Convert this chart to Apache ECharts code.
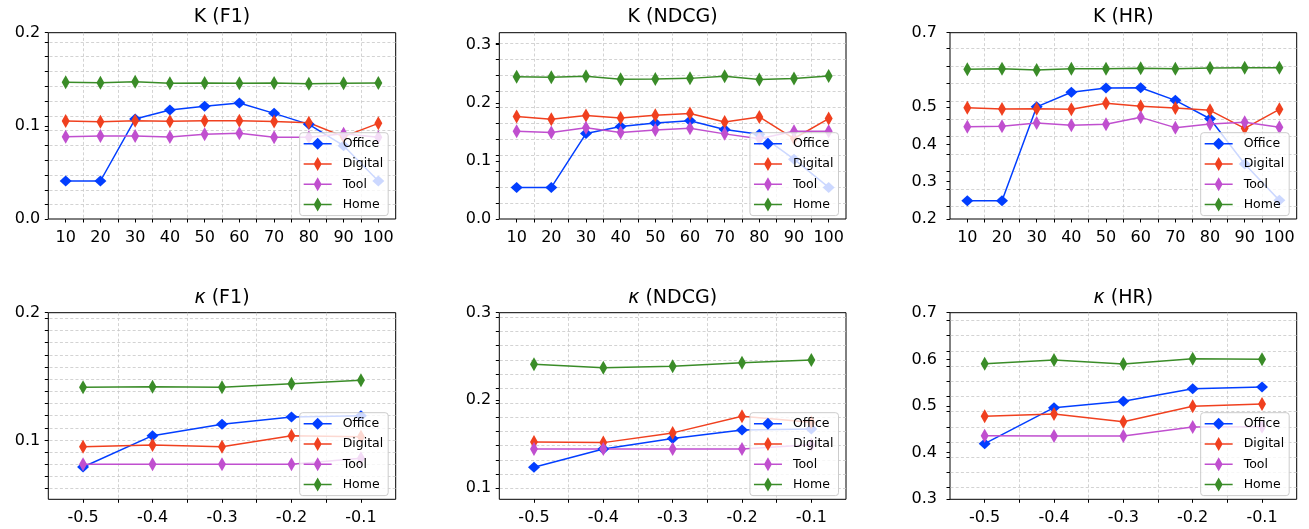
<!DOCTYPE html>
<html>
<head>
<meta charset="utf-8">
<script src="https://cdn.jsdelivr.net/npm/echarts@6/dist/echarts.min.js"></script>
<style>
html,body{margin:0;padding:0;background:#fff;}
#chart{width:1309px;height:529px;}
</style>
</head>
<body>
<div id="chart"></div>
<script>
// ---------- categories / ticks ----------
const seriesNames = ['Office', 'Digital', 'Tool', 'Home'];
const kValues = [10, 20, 30, 40, 50, 60, 70, 80, 90, 100];
const kappaValues = [-0.5, -0.4, -0.3, -0.2, -0.1];
const kMinorX = [15, 25, 35, 45, 55, 65, 75, 85, 95];
const kappaMinorX = [-0.45, -0.35, -0.25, -0.15];

const kF1YTicks = [0.0, 0.1, 0.2];
const kNdcgYTicks = [0.0, 0.1, 0.2, 0.3];
const kHrYTicks = [0.2, 0.3, 0.4, 0.5, 0.7];
const kapF1YTicks = [0.1, 0.2];
const kapNdcgYTicks = [0.1, 0.2, 0.3];
const kapHrYTicks = [0.3, 0.4, 0.5, 0.6, 0.7];

// minor (grid) tick positions
const kF1YGrid = [0.0153, 0.0312, 0.0471, 0.0630, 0.0789, 0.0948, 0.1107, 0.1266, 0.1425, 0.1584, 0.1743, 0.1902];
const kNdcgYGrid = [0.0269, 0.0544, 0.0819, 0.1094, 0.1369, 0.1644, 0.1919, 0.2194, 0.2469, 0.2744, 0.3019];
const kHrYGrid = [0.233, 0.2802, 0.3274, 0.3746, 0.4218, 0.469, 0.5162, 0.5634, 0.6106, 0.6578];
const kapF1YGrid = [0.0623, 0.0718, 0.0813, 0.0909, 0.1004, 0.1099, 0.1194, 0.1289, 0.1385, 0.148, 0.1575, 0.167, 0.1765, 0.1861, 0.1956];
const kapNdcgYGrid = [0.0992, 0.1155, 0.1319, 0.1482, 0.1645, 0.1809, 0.1972, 0.2135, 0.2298, 0.2462, 0.2625, 0.2788, 0.2952];
const kapHrYGrid = [0.325, 0.3576, 0.3902, 0.4228, 0.4554, 0.488, 0.5206, 0.5532, 0.5858, 0.6184, 0.651, 0.6836];

// ---------- values ----------
const kF1Office  = [0.0408, 0.0408, 0.1073, 0.1170, 0.1210, 0.1245, 0.1134, 0.1016, 0.0787, 0.0408];
const kF1Digital = [0.1052, 0.1045, 0.1055, 0.1050, 0.1055, 0.1055, 0.1048, 0.1034, 0.0884, 0.1027];
const kF1Tool    = [0.0884, 0.0890, 0.0890, 0.0880, 0.0909, 0.0920, 0.0877, 0.0877, 0.0915, 0.0877];
const kF1Home    = [0.1467, 0.1463, 0.1474, 0.1456, 0.1460, 0.1456, 0.1460, 0.1453, 0.1456, 0.1460];

const kNdcgOffice  = [0.0544, 0.0544, 0.1470, 0.1590, 0.1654, 0.1690, 0.1540, 0.1460, 0.1030, 0.0544];
const kNdcgDigital = [0.1763, 0.1717, 0.1780, 0.1740, 0.1786, 0.1815, 0.1670, 0.1757, 0.1385, 0.1729];
const kNdcgTool    = [0.1510, 0.1490, 0.1570, 0.1490, 0.1530, 0.1560, 0.1465, 0.1380, 0.1510, 0.1510];
const kNdcgHome    = [0.2450, 0.2438, 0.2456, 0.2404, 0.2410, 0.2420, 0.2456, 0.2400, 0.2416, 0.2460];

const kHrOffice  = [0.2490, 0.2490, 0.5010, 0.5400, 0.5515, 0.5524, 0.5184, 0.4690, 0.3476, 0.2500];
const kHrDigital = [0.4987, 0.4952, 0.4960, 0.4943, 0.5104, 0.5023, 0.4979, 0.4916, 0.4433, 0.4943];
const kHrTool    = [0.4478, 0.4487, 0.4576, 0.4513, 0.4540, 0.4728, 0.4452, 0.4550, 0.4594, 0.4461];
const kHrHome    = [0.6016, 0.6034, 0.5998, 0.6034, 0.6034, 0.6043, 0.6034, 0.6052, 0.6060, 0.6060];

const kapF1Office  = [0.0793, 0.1038, 0.1127, 0.1184, 0.1194];
const kapF1Digital = [0.0952, 0.0965, 0.0952, 0.1038, 0.1030];
const kapF1Tool    = [0.0814, 0.0814, 0.0814, 0.0814, 0.0861];
const kapF1Home    = [0.1416, 0.1421, 0.1416, 0.1445, 0.1471];

const kapNdcgOffice  = [0.1235, 0.1445, 0.1563, 0.1662, 0.1673];
const kapNdcgDigital = [0.1525, 0.1517, 0.1628, 0.1817, 0.1749];
const kapNdcgTool    = [0.1445, 0.1445, 0.1445, 0.1445, 0.1494];
const kapNdcgHome    = [0.2411, 0.2373, 0.2388, 0.2430, 0.2461];

const kapHrOffice  = [0.4193, 0.4964, 0.5100, 0.5371, 0.5407];
const kapHrDigital = [0.4779, 0.4829, 0.4664, 0.4993, 0.5043];
const kapHrTool    = [0.4364, 0.4357, 0.4357, 0.4550, 0.4557];
const kapHrHome    = [0.5907, 0.5986, 0.5900, 0.6014, 0.6000];

// ---------- layout & style ----------
const FONT = '"DejaVu Sans", "Liberation Sans", sans-serif';
const W = 1309;
const COLORS = ['#023eff', '#f0401f', '#c04fcf', '#3a8c28'];
const SYMBOL_SIZES = [[12, 11], [8, 14], [8, 14], [8, 14]];
const GRID_LINE = { color: '#c8c8c8', width: 0.8, type: [3, 2.2] };
const ICON_WIDE = 'path://M0,0M34,14M0,6.25L28,6.25L28,7.75L0,7.75ZM14,1L20,7L14,13L8,7Z';
const ICON_THIN = 'path://M0,0M34,14M0,6.25L28,6.25L28,7.75L0,7.75ZM14,0L18,7L14,14L10,7Z';

const COLS = [[48.3, 395.7], [499.3, 846.0], [950.0, 1296.7]];
const ROWS = [[32.7, 219.0], [312.7, 499.3]];
const TITLE_Y = [17, 298.3];
const Y_LABEL_MARGIN = [8, 8, 13];

const panels = [
  { metric: 'F1',   kappa: false, col: 0, row: 0, yMin: 0,     yMax: 0.2,    yTicks: kF1YTicks,     yGrid: kF1YGrid,     data: [kF1Office, kF1Digital, kF1Tool, kF1Home] },
  { metric: 'NDCG', kappa: false, col: 1, row: 0, yMin: 0,     yMax: 0.3206, yTicks: kNdcgYTicks,   yGrid: kNdcgYGrid,   data: [kNdcgOffice, kNdcgDigital, kNdcgTool, kNdcgHome] },
  { metric: 'HR',   kappa: false, col: 2, row: 0, yMin: 0.2,   yMax: 0.7,    yTicks: kHrYTicks,     yGrid: kHrYGrid,     data: [kHrOffice, kHrDigital, kHrTool, kHrHome] },
  { metric: 'F1',   kappa: true,  col: 0, row: 1, yMin: 0.054, yMax: 0.2,    yTicks: kapF1YTicks,   yGrid: kapF1YGrid,   data: [kapF1Office, kapF1Digital, kapF1Tool, kapF1Home] },
  { metric: 'NDCG', kappa: true,  col: 1, row: 1, yMin: 0.087, yMax: 0.3,    yTicks: kapNdcgYTicks, yGrid: kapNdcgYGrid, data: [kapNdcgOffice, kapNdcgDigital, kapNdcgTool, kapNdcgHome] },
  { metric: 'HR',   kappa: true,  col: 2, row: 1, yMin: 0.3,   yMax: 0.7,    yTicks: kapHrYTicks,   yGrid: kapHrYGrid,   data: [kapHrOffice, kapHrDigital, kapHrTool, kapHrHome] }
];

const option = {
  animation: false,
  backgroundColor: '#ffffff',
  textStyle: { fontFamily: FONT },
  grid: [], xAxis: [], yAxis: [], series: [], legend: [], graphic: []
};

panels.forEach((p, i) => {
  const [l, r] = COLS[p.col];
  const [t, b] = ROWS[p.row];
  const w = r - l, h = b - t;
  const xs = p.kappa ? kappaValues : kValues;
  const xMinor = p.kappa ? kappaMinorX : kMinorX;
  const xMin = p.kappa ? -0.55 : 5;
  const xMax = p.kappa ? -0.05 : 105;
  const xFmt = p.kappa ? (v => Number(v).toFixed(1)) : (v => String(Math.round(v)));

  option.grid.push({ left: l, top: t, width: w, height: h, show: true, borderColor: '#000', borderWidth: 1, backgroundColor: 'transparent' });

  const xMain = option.xAxis.length;
  option.xAxis.push({
    type: 'value', gridIndex: i, position: 'bottom', min: xMin, max: xMax,
    axisLine: { show: false, onZero: false }, splitLine: { show: false },
    axisTick: { show: true, customValues: xs.concat(xMinor), length: 3.5, lineStyle: { color: '#000', width: 1 } },
    axisLabel: { show: true, customValues: xs, formatter: xFmt, fontSize: 16, color: '#000', margin: 11, fontFamily: FONT }
  });
  option.xAxis.push({
    type: 'value', gridIndex: i, position: 'top', min: xMin, max: xMax,
    axisLine: { show: false, onZero: false }, splitLine: { show: false }, axisLabel: { show: false },
    axisTick: { show: true, inside: true, length: h, customValues: xMinor, lineStyle: GRID_LINE }
  });

  const yMain = option.yAxis.length;
  option.yAxis.push({
    type: 'value', gridIndex: i, position: 'left', min: p.yMin, max: p.yMax,
    axisLine: { show: false, onZero: false }, splitLine: { show: false },
    axisTick: { show: true, customValues: p.yTicks.concat(p.yGrid), length: 3.5, lineStyle: { color: '#000', width: 1 } },
    axisLabel: { show: true, customValues: p.yTicks, formatter: v => Number(v).toFixed(1), fontSize: 16, color: '#000', margin: Y_LABEL_MARGIN[p.col], fontFamily: FONT }
  });
  option.yAxis.push({
    type: 'value', gridIndex: i, position: 'right', min: p.yMin, max: p.yMax,
    axisLine: { show: false, onZero: false }, splitLine: { show: false }, axisLabel: { show: false },
    axisTick: { show: true, inside: true, length: w, customValues: p.yGrid, lineStyle: GRID_LINE }
  });

  seriesNames.forEach((name, k) => {
    option.series.push({
      type: 'line', name: name,
      xAxisIndex: xMain, yAxisIndex: yMain,
      data: xs.map((x, j) => [x, p.data[k][j]]),
      symbol: 'diamond', symbolSize: SYMBOL_SIZES[k], showSymbol: true,
      itemStyle: { color: COLORS[k] },
      lineStyle: { color: COLORS[k], width: 1.5 },
      emphasis: { disabled: true }
    });
  });

  option.legend.push({
    orient: 'vertical', right: W - (r - 7.5), top: t + 100,
    itemWidth: 34, itemHeight: 14, itemGap: 6.3, padding: [4, 5, 4, 4],
    backgroundColor: 'rgba(255,255,255,0.8)', borderColor: '#cccccc', borderWidth: 1, borderRadius: 3,
    textStyle: { fontSize: 12.5, color: '#000', fontFamily: FONT },
    itemStyle: { borderWidth: 0 },
    selectedMode: false,
    data: seriesNames.map((n, k) => ({ name: n, icon: k === 0 ? ICON_WIDE : ICON_THIN }))
  });

  option.graphic.push({
    type: 'text', x: (l + r) / 2, y: TITLE_Y[p.row], z: 10,
    style: {
      text: p.kappa ? '{i|κ} (' + p.metric + ')' : 'K (' + p.metric + ')',
      fontSize: 19, fontFamily: FONT, fill: '#000',
      align: 'center', verticalAlign: 'middle',
      rich: { i: { fontStyle: 'italic', fontSize: 19, fontFamily: FONT, fill: '#000' } }
    }
  });
});

const chart = echarts.init(document.getElementById('chart'), null, { renderer: 'canvas' });
chart.setOption(option);
</script>
</body>
</html>
